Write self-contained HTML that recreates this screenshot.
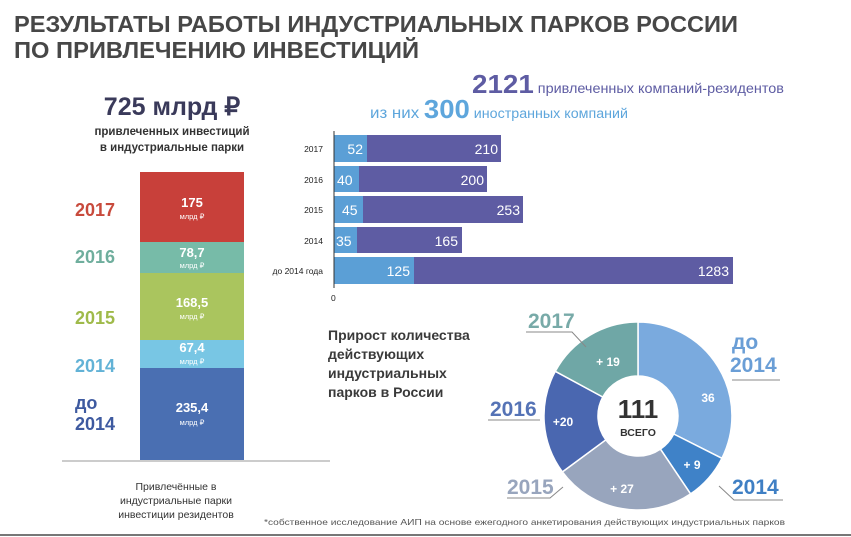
<!DOCTYPE html>
<html><head><meta charset="utf-8"><style>
body{margin:0;background:#fff;}
svg{display:block;font-family:"Liberation Sans","Noto Sans CJK SC",sans-serif;}
</style></head><body>
<svg width="851" height="537" viewBox="0 0 851 537">
<rect width="851" height="537" fill="#fff"/>
<g font-weight="bold" fill="#474747" font-size="23">
<text x="14" y="32" textLength="724" lengthAdjust="spacingAndGlyphs">РЕЗУЛЬТАТЫ РАБОТЫ ИНДУСТРИАЛЬНЫХ ПАРКОВ РОССИИ</text>
<text x="14" y="58" textLength="405" lengthAdjust="spacingAndGlyphs">ПО ПРИВЛЕЧЕНИЮ ИНВЕСТИЦИЙ</text>
</g>
<!-- left -->
<text x="172" y="115" text-anchor="middle" font-size="25" font-weight="bold" fill="#3a3a5a">725 млрд ₽</text>
<text x="172" y="135" text-anchor="middle" font-size="11.5" font-weight="bold" fill="#333">привлеченных инвестиций</text>
<text x="172" y="151" text-anchor="middle" font-size="11.5" font-weight="bold" fill="#333">в индустриальные парки</text>
<rect x="140" y="172" width="104" height="70" fill="#c8403a"/>
<rect x="140" y="242" width="104" height="31" fill="#77bba8"/>
<rect x="140" y="273" width="104" height="67" fill="#aac55e"/>
<rect x="140" y="340" width="104" height="28" fill="#78c6e4"/>
<rect x="140" y="368" width="104" height="92" fill="#4a6fb2"/>
<g fill="#fff" text-anchor="middle" font-weight="bold">
<text x="192" y="207" font-size="13">175</text><text x="192" y="219" font-size="7.5" font-weight="normal">млрд ₽</text>
<text x="192" y="257" font-size="13">78,7</text><text x="192" y="268" font-size="7.5" font-weight="normal">млрд ₽</text>
<text x="192" y="307" font-size="13">168,5</text><text x="192" y="319" font-size="7.5" font-weight="normal">млрд ₽</text>
<text x="192" y="352" font-size="13">67,4</text><text x="192" y="364" font-size="7.5" font-weight="normal">млрд ₽</text>
<text x="192" y="412" font-size="13">235,4</text><text x="192" y="425" font-size="7.5" font-weight="normal">млрд ₽</text>
</g>
<g font-weight="bold" font-size="18">
<text x="75" y="216" fill="#c84a3c">2017</text>
<text x="75" y="263" fill="#6fae9d">2016</text>
<text x="75" y="324" fill="#9fba4a">2015</text>
<text x="75" y="372" fill="#62b2d6">2014</text>
<text x="75" y="409" fill="#3e5aa0">до</text>
<text x="75" y="430" fill="#3e5aa0">2014</text>
</g>
<line x1="62" y1="461" x2="330" y2="461" stroke="#999" stroke-width="1"/>
<g font-size="10.5" fill="#333" text-anchor="middle">
<text x="176" y="490">Привлечённые в</text>
<text x="176" y="504">индустриальные парки</text>
<text x="176" y="518">инвестиции резидентов</text>
</g>
<!-- bar chart header -->
<text x="472" y="93" textLength="312" lengthAdjust="spacingAndGlyphs" fill="#5e5ca3"><tspan font-size="26" font-weight="bold">2121</tspan><tspan font-size="13.5"> привлеченных компаний-резидентов</tspan></text>
<text x="370" y="118" textLength="258" lengthAdjust="spacingAndGlyphs" fill="#5ea6dc"><tspan font-size="16">из них </tspan><tspan font-size="26" font-weight="bold">300</tspan><tspan font-size="13.5"> иностранных компаний</tspan></text>
<g>
<rect x="334" y="135" width="167" height="27" fill="#5e5ca3"/><rect x="334" y="135" width="33" height="27" fill="#5b9fd6"/>
<rect x="334" y="166" width="153" height="26" fill="#5e5ca3"/><rect x="334" y="166" width="25" height="26" fill="#5b9fd6"/>
<rect x="334" y="196" width="189" height="27" fill="#5e5ca3"/><rect x="334" y="196" width="29" height="27" fill="#5b9fd6"/>
<rect x="334" y="227" width="128" height="26" fill="#5e5ca3"/><rect x="334" y="227" width="23" height="26" fill="#5b9fd6"/>
<rect x="334" y="257" width="399" height="27" fill="#5e5ca3"/><rect x="334" y="257" width="80" height="27" fill="#5b9fd6"/>
</g>
<line x1="334" y1="131" x2="334" y2="288" stroke="#333" stroke-width="1"/>
<g fill="#fff" font-size="14">
<text x="363" y="154" text-anchor="end">52</text><text x="498" y="154" text-anchor="end">210</text>
<text x="337" y="185">40</text><text x="484" y="185" text-anchor="end">200</text>
<text x="342" y="215">45</text><text x="520" y="215" text-anchor="end">253</text>
<text x="336" y="246">35</text><text x="458" y="246" text-anchor="end">165</text>
<text x="410" y="276" text-anchor="end">125</text><text x="729" y="276" text-anchor="end">1283</text>
</g>
<g font-size="8.5" fill="#222" text-anchor="end">
<text x="323" y="152">2017</text><text x="323" y="183">2016</text><text x="323" y="213">2015</text><text x="323" y="244">2014</text><text x="323" y="274">до 2014 года</text>
</g>
<text x="331" y="301" font-size="8.5" fill="#222">0</text>
<!-- donut text -->
<g font-size="14" font-weight="bold" fill="#3a3a3a">
<text x="328" y="340">Прирост количества</text>
<text x="328" y="359">действующих</text>
<text x="328" y="378">индустриальных</text>
<text x="328" y="397">парков в России</text>
</g>
<g stroke="#fff" stroke-width="1.5">
<path d="M638,322 A94,94 0 0 1 721.9,458.3 L673.7,434 A40,40 0 0 0 638,376Z" fill="#7aaade"/>
<path d="M721.9,458.3 A94,94 0 0 1 690.6,493.9 L660.4,449.1 A40,40 0 0 0 673.7,434Z" fill="#3f82c8"/>
<path d="M690.6,493.9 A94,94 0 0 1 562.4,471.9 L605.8,439.8 A40,40 0 0 0 660.4,449.1Z" fill="#98a5bd"/>
<path d="M562.4,471.9 A94,94 0 0 1 555.3,371.3 L602.8,397 A40,40 0 0 0 605.8,439.8Z" fill="#4a67b0"/>
<path d="M555.3,371.3 A94,94 0 0 1 638,322 L638,376 A40,40 0 0 0 602.8,397Z" fill="#6fa7a6"/>
</g>
<circle cx="638" cy="416" r="39" fill="#fff"/>
<text x="638" y="418" text-anchor="middle" font-size="26" font-weight="bold" fill="#333">111</text>
<text x="638" y="436" text-anchor="middle" font-size="10.5" font-weight="bold" fill="#333">ВСЕГО</text>
<g fill="#fff" font-size="12" font-weight="bold" text-anchor="middle">
<text x="708" y="402">36</text><text x="692" y="469">+ 9</text><text x="622" y="493">+ 27</text><text x="563" y="426">+20</text><text x="608" y="366">+ 19</text>
</g>
<g font-size="21" font-weight="bold">
<text x="528" y="328" fill="#78aaa8">2017</text>
<text x="732" y="349" fill="#6a9ed6">до</text>
<text x="730" y="372" fill="#6a9ed6">2014</text>
<text x="490" y="416" fill="#5573b6">2016</text>
<text x="507" y="494" fill="#98a5bd">2015</text>
<text x="732" y="494" fill="#3f7fc4">2014</text>
</g>
<g stroke="#888" stroke-width="1" fill="none">
<polyline points="526,332 572,332 586,347"/>
<polyline points="732,380 780,380"/>
<polyline points="488,420 540,420"/>
<polyline points="507,498 550,498 563,487"/>
<polyline points="783,500 734,500 719,486"/>
</g>
<text x="264" y="525" font-size="8.5" fill="#555" textLength="521" lengthAdjust="spacingAndGlyphs">*собственное исследование АИП на основе ежегодного анкетирования действующих индустриальных парков</text>
<line x1="0" y1="535" x2="851" y2="535" stroke="#777" stroke-width="2"/>
</svg>
</body></html>
